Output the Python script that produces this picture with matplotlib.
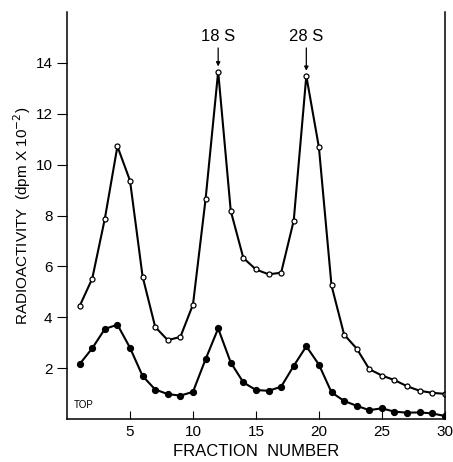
import matplotlib
matplotlib.use("Agg")
import matplotlib.pyplot as plt
import numpy as np

plt.rcParams['font.family'] = ['Liberation Sans', 'DejaVu Sans']

# fraction numbers (top of gradient = 1)
fractions = np.arange(1, 31)

# open circles
open_series = [4.44, 5.52, 7.87, 10.72, 9.37, 5.60, 3.62, 3.10, 3.23, 4.50,
               8.64, 13.66, 8.18, 6.33, 5.88, 5.69, 5.75, 7.80, 13.49, 10.68,
               5.25, 3.32, 2.77, 1.96, 1.71, 1.53, 1.29, 1.11, 1.03, 0.99]

# filled circles
filled_series = [2.16, 2.78, 3.54, 3.71, 2.80, 1.69, 1.16, 0.98, 0.92, 1.07,
                 2.35, 3.56, 2.22, 1.44, 1.14, 1.11, 1.27, 2.09, 2.86, 2.14,
                 1.05, 0.71, 0.52, 0.35, 0.42, 0.29, 0.25, 0.26, 0.22, 0.12]

markers_at = [(12, "18 S"), (19, "28 S")]

fig = plt.figure(figsize=(4.53, 4.62), dpi=100)
ax = fig.add_axes([0.148, 0.093, 0.834, 0.881])

ax.plot(fractions, open_series, "-o", color="black", lw=1.5,
        ms=3.6, mfc="white", mec="black", mew=0.9)
ax.plot(fractions, filled_series, "-o", color="black", lw=1.5,
        ms=4.2, mfc="black", mec="black")

for fx, lab in markers_at:
    top = open_series[fx - 1]
    ax.annotate(lab, xy=(fx, top + 0.2), xytext=(fx, 14.75),
                ha="center", va="bottom", fontsize=12,
                arrowprops=dict(arrowstyle="-|>", color="black", lw=0.9,
                                mutation_scale=6, shrinkA=1, shrinkB=0))

ax.text(0.5, 0.35, "TOP", fontsize=7, ha="left", va="bottom")

ax.set_xlim(0, 30)
ax.set_ylim(0, 16)
ax.set_xticks([5, 10, 15, 20, 25, 30])
ax.set_yticks([2, 4, 6, 8, 10, 12, 14])
ax.tick_params(axis="x", direction="in", length=6, labelsize=11, pad=4)
ax.tick_params(axis="y", direction="out", length=7, labelsize=11)
ax.spines["top"].set_visible(False)
for s in ["left", "right", "bottom"]:
    ax.spines[s].set_linewidth(1.1)

ax.set_xlabel("FRACTION  NUMBER", fontsize=12, labelpad=4)
ax.set_ylabel("RADIOACTIVITY  (dpm X 10$^{-2}$)", fontsize=11, labelpad=2)

fig.savefig("out.png", dpi=100)
